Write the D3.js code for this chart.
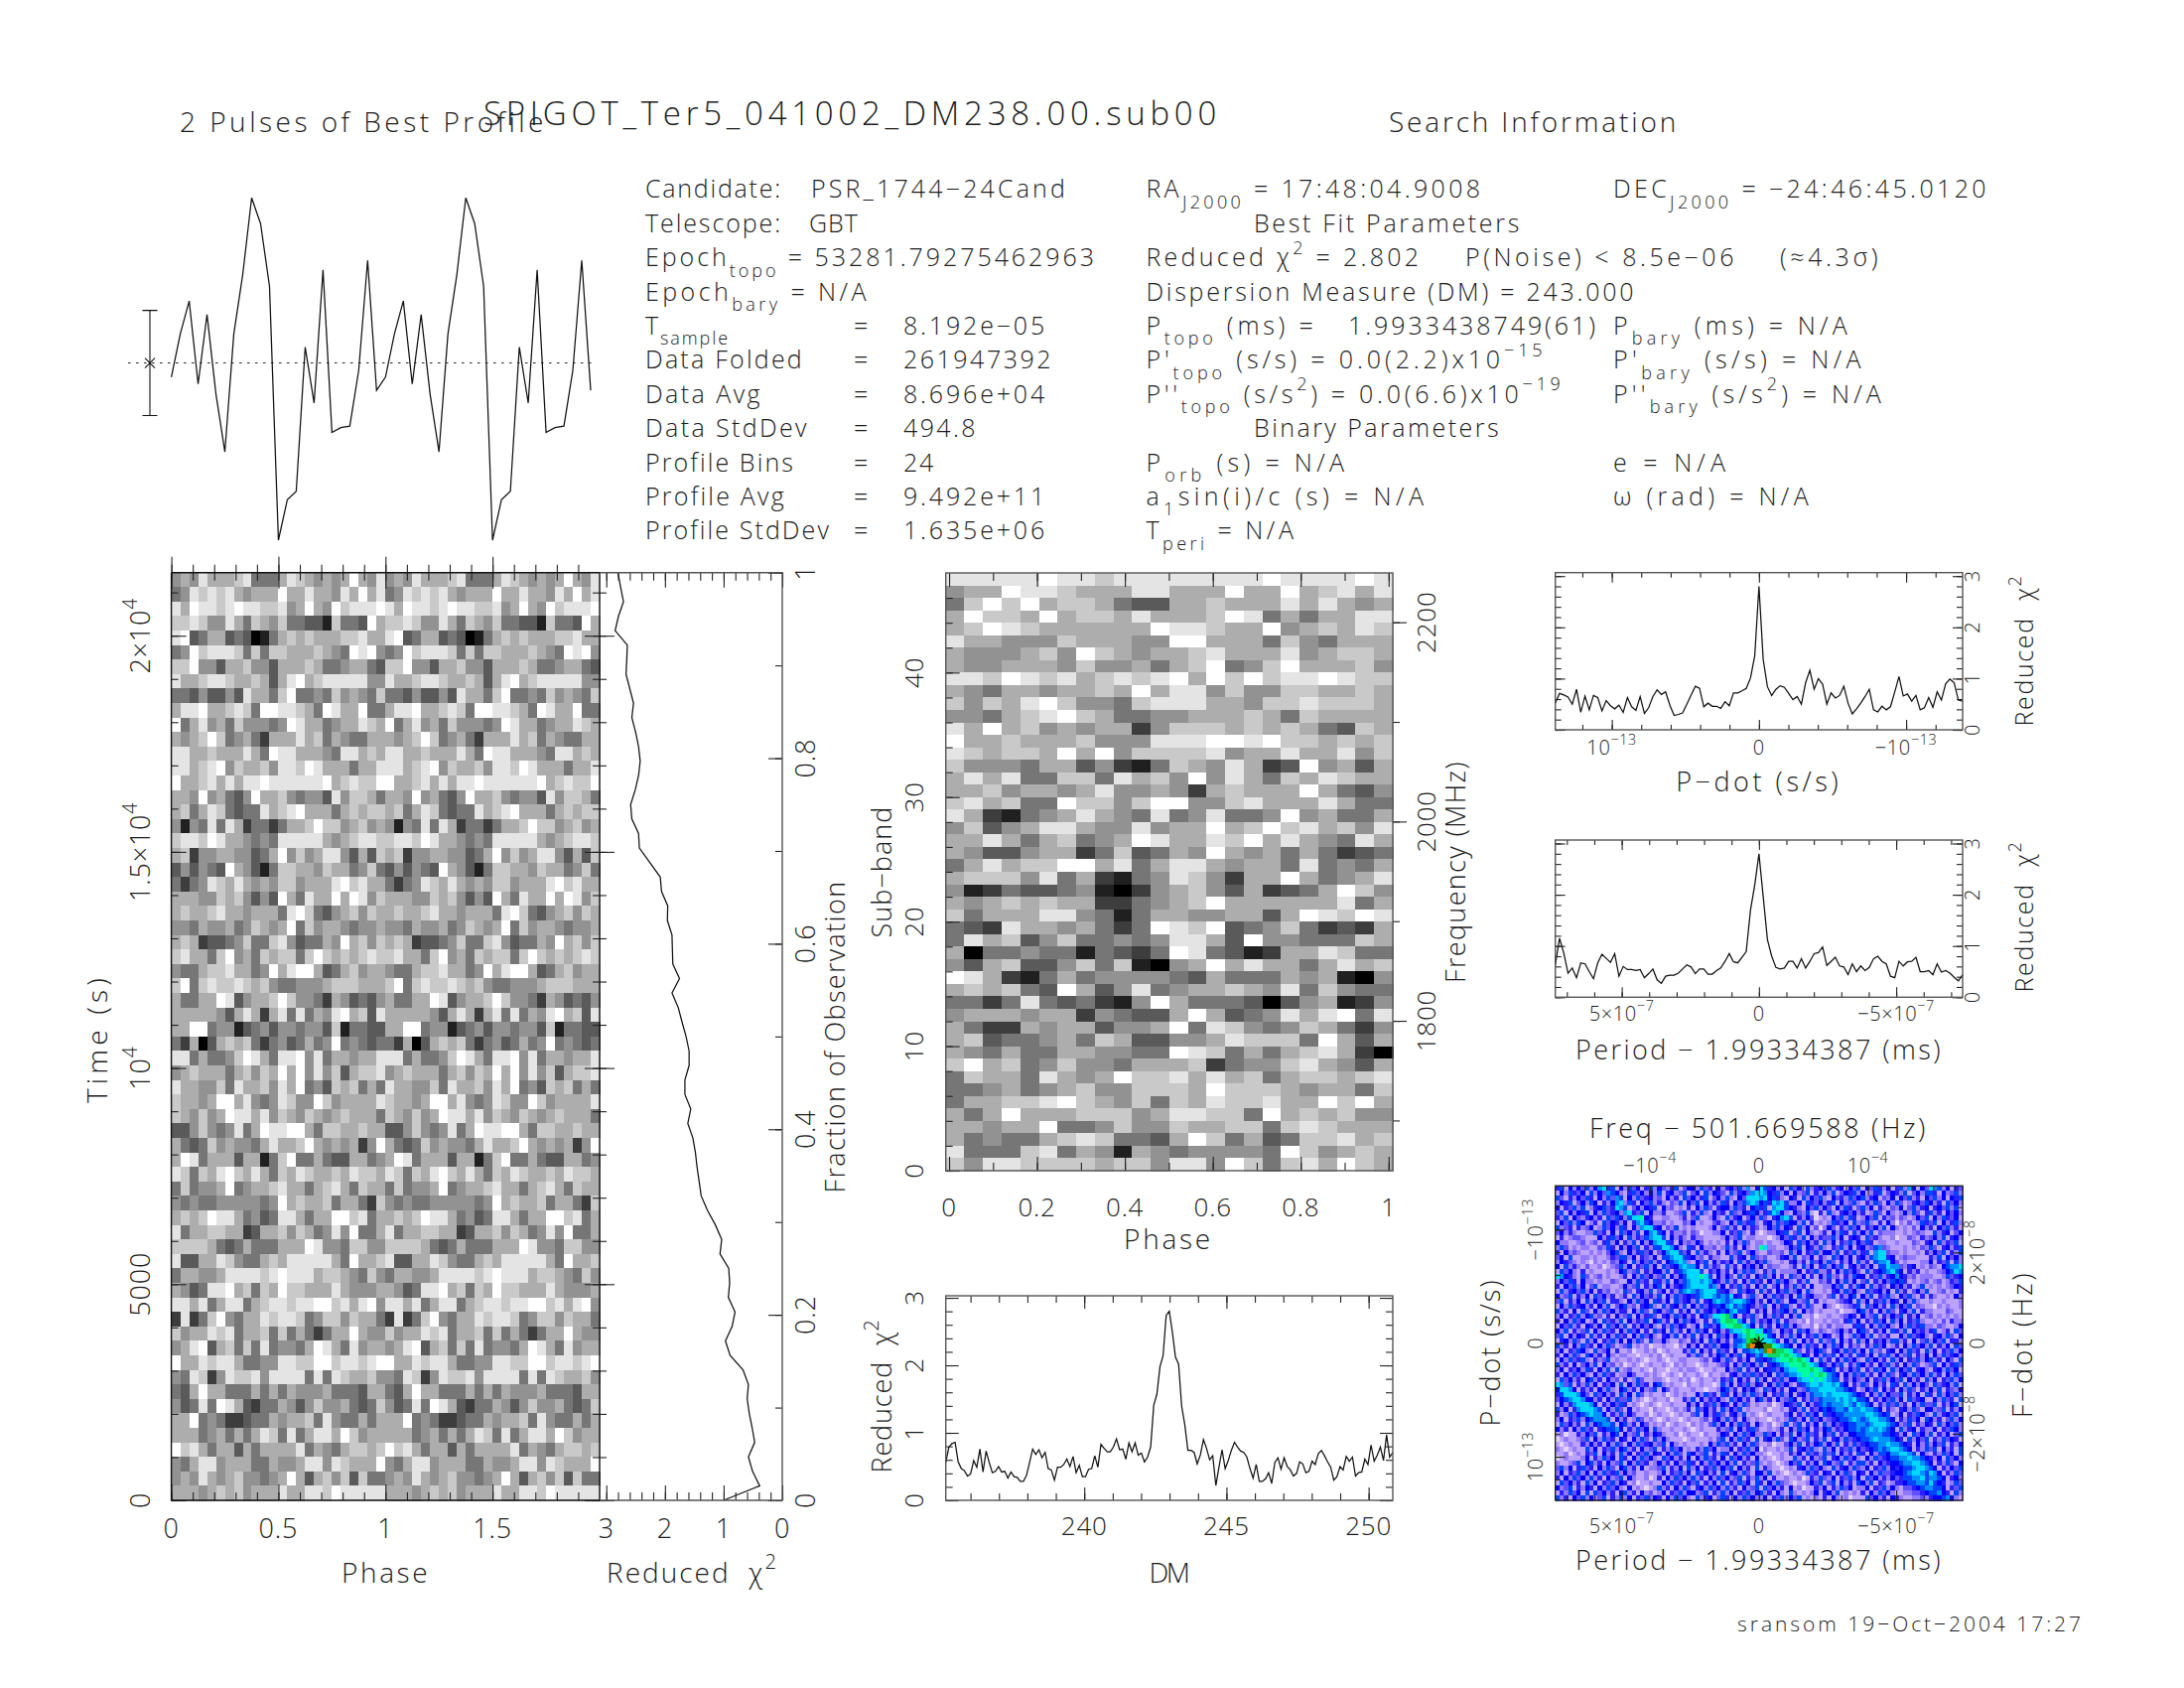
<!DOCTYPE html>
<html><head><meta charset="utf-8">
<script src="https://cdnjs.cloudflare.com/ajax/libs/d3/7.8.5/d3.min.js"></script>
<style>html,body{margin:0;background:#fff}svg{display:block}</style></head>
<body><svg id="c" width="2200" height="1700"></svg>
<script>
// ---------- data ----------
const profileSigma=[-.27,.55,1.18,-.40,.92,-.59,-1.69,.55,1.68,3.14,2.65,1.46,-3.37,-2.60,-2.44,.30,-.76,1.77,-1.32,-1.23,-1.20,-.14,1.95,-.52];
// time-phase greys: 0 black .. 9 white, top row first, one pulse (repeated twice in the plot)
const timePhaseRows=[
"565866678444687656569658","458787865666966866586968","869887898877856965978889","778755864765744331744396",
"893466343014676766677866","459788874747766676549895","779553667553666764456643","866788766763689678888855",
"443533538664794454756547","688966787499887649866944","946856475554598664566876","656797456426668674654466",
"886676668649886665488676","886789576675887986664668","966786868898888889678779","665956435966754553857764",
"674687434486789666467677","515484862442466797756756","788798665454888886567887","672556655346957568853637",
"353543965314776657664574","424587686565775666897866","666557675353964866969857","676678665666489743567576",
"554655645765694756654556","676233457447853446596757","786647956476774797676787","544677866459689963467566",
"794787787675445556777666","644669835667975542653435","666665368626848465896738","669945513453554553714433",
"426036767424534645945434","884644579864889584665668","567666467576969585736778","866557486675869453767464",
"766569968545875597566668","765756988685765765676664","335754584698899647766766","643475655468667965656259",
"698466636614794464336645","874768976864768766768776","474556945667866467864766","545445555545967667466427",
"676798864534886466997846","846677662366757645859446","777764346444666985547755","833668754467688888649667",
"466556888878988867765475","653488967476977666865556","886846884678878899786895","282479546687887457757664",
"756687846674746424669655","568936747484554698648566","966878864455887799788789","548725877858888484876675",
"436966444646465556444366","534849863244653575564347","669454223446566748544646","666456464687484688697566",
"978646636466668465467767","546885666446556885876669","565865675545696367573744","666567675666866887988888"];
// sub-band greys, top row first
const subbandRows=[
"888889887888888889888898","566988766688666966967868","479796776433667666868656","697769677686667984646688",
"679876666669887669567687","866555766655996664754666","655567597656678666856776","655666575564679457966675",
"887987867878969797889877","654665667696885755776676","757689755478886657787776","554678976445566676476666",
"869675656625777676764376","966766675558889989776767","876776969577778566866857","755546635214765862395636",
"686844774867595864768766","667566568556526766696435","786744977579955786668644","862145686548458445956446",
"573568865585669679786758","668646745698668796865486","653356624734659656464234","468677996846886566484546",
"677758462145875266964568","512433451025675362346975","656767662245679666666846","746668854146655663698798",
"432866564249879345742326","486735744545886395544476","604454414324984312668744","536733574710569686646867",
"986214645555436444656105","676743963584566765847544","442484342159644430356125","566656625433696345868948",
"642265663556948754576425","673445647633556877749636","654644665544987464678620","796745755466672455786536",
"476648656977868674677678","445645675577769777656647","466778976574768778669796","646966677756887749676755",
"665669445755766774787666","645446787443697463477867","844478465165455554975676","758877776775885974786976"];
// P-Pdot map colour levels, estimated on a 96x64 grid: 0 pale lilac .. 5 blue .. 8 cyan, 9/a green, b olive, c orange, d black
const ppdotRows=[
"46152536 25784615 26351462 53246135 52634152 45362715 86452516 35162453 62451536 15364251 46275153 87625143",
"15264351 62537652 14635252 61452361 35162543 16245378 87546251 52361425 26135462 51246135 42613526 64152362",
"63142536 41526376 15263452 31524163 52461352 62153888 78564215 41625362 15342635 62451325 15362415 36251546",
"25461352 65142578 26415362 42132615 36152426 41536787 56487862 25164352 46152362 14263152 63124536 52416352",
"51436261 24563487 61352546 15231214 15263145 52634156 46178865 42153625 31526413 62514213 25136245 14536261",
"36152546 15263452 78436152 24112361 42621534 16325465 24687521 53261041 62145352 41263152 12526314 62415352",
"42615324 52416365 26889541 12211241 36112521 62451352 63145786 14253012 15362641 25361423 13212536 15264351",
"15362651 24163542 51478652 23121132 51211342 15263462 14526365 52614121 26435162 36214152 02131264 36152462",
"62341423 51263526 41527884 51326121 21112513 62415243 12536254 16251302 53142635 14352615 21213152 41536241",
"35242112 26341516 35261578 65142231 32011225 14362141 01225461 36152124 15264162 52613222 11212321 16245135",
"14123321 11524635 16243678 86152421 42211112 52361221 11012536 42615243 36251454 16342112 01132142 35261452",
"52211231 23146251 42615257 88641523 25312121 41526312 21211254 16352416 25143625 36412211 21113214 51624361",
"26312122 11326415 25361426 68875216 41522312 62415212 98221125 36154262 14362514 52367321 11212132 63145246",
"41523211 21213562 15246351 35788635 16242141 52361352 11322316 25143625 52614362 46178832 21211214 25361426",
"35161122 12112436 62514325 16678864 52314221 16245163 23112452 61325142 16352514 52678845 12322111 42615352",
"25432121 02121325 41625362 41567872 15361524 35162425 36211214 52416352 63142516 24167785 31211122 51436162",
"51624213 11201236 25143625 16345787 75162431 62415352 51322112 41625146 25361452 42516687 73245121 32156778",
"16352141 21112125 62361425 52614678 88614352 41526362 14261222 25143622 41526353 16245678 65142412 11235687",
"87542163 12312112 41526352 36152568 88986152 53162415 36251416 32514152 62314265 51436245 75423122 21126345",
"25364152 21211321 15263416 42615367 88787542 62415263 41526352 14261132 41526251 36142536 56412123 12312436",
"41536251 36122112 52361425 61524567 88886725 14362415 26135142 62415112 25361426 51624315 35241261 21212354",
"16245362 51423121 63145261 35142678 76788864 52163541 62415362 35162112 14526352 16345251 62413526 11231214",
"52361425 16352412 41625342 61526345 46788767 68541362 15263425 16245221 36142561 52614362 15362141 42112152",
"36142516 25361442 15263516 42516345 26145787 67887652 41526315 52361412 11234516 25143625 41526211 21121112",
"15263452 41526135 62314562 16245261 52635465 78676542 36152462 14263115 21012346 16352416 25361321 10212112",
"62415163 15263524 41526316 52361425 16245356 57866514 25143652 61523121 11201125 62415263 14526142 21113211",
"25143625 62314152 36152463 14526352 41563889 a7514362 15263415 26112011 21123541 52361425 36142512 31212121",
"41526351 25163426 15243615 62415263 52141679 aa975162 43526142 21202112 12214625 14263516 25143621 12131422",
"15362415 42516352 61425352 14263541 25164358 99aa8751 62415362 52112021 31221146 41526352 15263462 21321125",
"52614236 15263415 26351416 35162415 26351452 47889a98 85621534 16352132 12352415 63142516 42615342 46124163",
"36152541 62415263 41526352 14526142 61425163 52578a9a 98651426 25143625 41251263 52613241 15263452 14526315",
"14526316 25143625 15263162 25211321 42516352 41667abb 98874152 61524162 36152416 25143526 62415136 25361442",
"62415263 41526312 36121201 12110215 25143625 52678bcd dbb98765 15263415 26351423 14263512 41526352 61425163",
"25143652 16235141 12011212 01211142 61524163 41516678 7bcbaa98 63142563 14526362 51623145 15263416 25143625",
"41526316 52415212 21101121 20121114 26314256 25361547 68aaa9a9 87541526 36152416 42516362 52361425 15263452",
"15263462 14236121 12121011 21011221 11231452 63142516 4567899a 9a985162 41526352 16352416 25143625 62415316",
"62415135 26152312 01210121 12102121 10121123 41526352 61456789 99a98754 25361426 52415362 41526312 36152463",
"25143526 41526161 23112102 11011212 21011211 52361425 15463578 8999a986 56142536 14263516 25361452 14526351",
"41526352 15263412 25311212 10121021 12102112 14526363 42516367 789989a9 76515263 62415263 14526352 62415263",
"16352415 62415231 41263112 21011212 01211214 36152416 25143625 57889898 76614253 25143625 36152416 25143625",
"87361426 25143516 15263415 62121102 11211016 25143625 41526352 14678878 87865142 63152416 41625253 16345261",
"58875142 41526215 62415236 15312111 21101125 62415352 16352415 52367788 88776541 25361524 15263142 52614325",
"46888753 16352416 25163121 12012121 15263416 41526263 25143625 14526778 78888765 41526253 36142516 41625362",
"35678875 52415263 36121012 11201142 61524352 16352415 62415236 51426367 77878786 65142536 25163451 15263416",
"15247888 75142536 41210121 01121115 25143625 41526312 11201254 36152467 67778768 76514263 62415263 36142561",
"62514788 87615263 15121102 11012124 16352416 25361211 12011214 52614356 56776877 87765142 14526315 52361425",
"41263567 87751426 25311201 21101211 36152463 14526121 01211135 14263516 45667777 78876561 25143652 16245361",
"25143625 67776152 41263121 01211012 11231452 62415212 11012126 42516352 34566787 67887765 14263516 52413625",
"16352416 25677615 62415312 12012110 21213625 15263415 21201261 36142516 25345667 76788876 52361425 41625362",
"52415263 41456675 14263516 21121121 01211142 36152463 11212415 26351425 62435667 67878765 16245142 25143652",
"12011425 36142561 52361425 42112012 11021125 41526352 26351426 15263415 36142556 67777665 42516352 61425136",
"01211236 15263415 41526316 25211101 21112136 15263416 14526316 52361426 14526345 66787776 54162536 14263541",
"10121142 52415263 15263452 36152121 11215263 62415263 11201135 26142562 52614263 45667787 76541526 25361425",
"21012116 25143625 62415236 14263512 14263512 25143625 02112126 14536216 25143625 34567678 87651426 36152416",
"11201214 36152416 25143625 41526316 52361426 41526352 21011214 25163426 36152416 41526657 78876152 14263516",
"01211125 14263516 41526352 16352415 15263415 16352415 12101211 62415236 14526352 15263456 67787765 42516352",
"21123615 62415236 15263412 52415236 41526352 52614236 21210125 36142516 52361426 62415345 56778876 51426315",
"36251463 41526315 62415122 36142516 25143625 36152416 14211012 14526352 16245263 25143625 45667887 65142536",
"25143625 15263462 52311211 25143625 16352416 14526315 52612101 21263415 41526315 41526334 55678876 87514263",
"41526352 62415236 15211201 41526352 62415263 52361426 25141121 12014263 25143625 16352425 34667786 77651452",
"16352416 25143625 41201121 15263415 36142516 14263516 41526321 01125361 36152416 52614312 44566776 86541263",
"52361425 41526352 15121012 62415263 14526352 62415236 16352415 12011425 14263512 25143625 21334567 76651436",
"14263516 16352415 62415231 25143625 52361426 25143625 62415216 21212514 52612121 41526352 11223345 66754162",
"62415362 52361426 25143625 41526352 16245136 41526352 25143625 36121214 15212011 16352415 42112232 45567521"];
const ppdotLevels=["#e4d2ff","#bca2ff","#9078ff","#6050ff","#2a20ff","#0000ff","#0044ff","#0090ff","#00d8ff","#00ff9c","#10d860","#3f8f00","#ff8000","#081200"];
// reduced chi^2 against fraction of observation, 65 points from fraction 0 to 1
const chiVsFraction=[1.00,.385,.506,.577,.47,.513,.563,.598,.577,.67,.89,.969,.855,.805,.919,.897,.912,1.061,1.033,1.14,1.275,1.382,1.417,1.453,1.481,1.524,1.61,1.56,1.66,1.66,1.588,1.588,1.64,1.709,1.774,1.88,1.752,1.866,1.873,1.88,1.959,1.952,2.058,2.08,2.258,2.436,2.45,2.564,2.585,2.507,2.45,2.422,2.45,2.5,2.564,2.536,2.6,2.664,2.65,2.642,2.849,2.792,2.707,2.756,2.802];
const chiVsDM=[.56,.79,.84,.86,.57,.47,.44,.36,.39,.59,.49,.76,.42,.73,.56,.41,.43,.50,.42,.43,.33,.42,.35,.34,.28,.28,.37,.56,.76,.68,.75,.63,.71,.47,.45,.30,.49,.49,.53,.61,.50,.65,.41,.52,.35,.35,.46,.47,.66,.49,.83,.77,.72,.72,.79,.91,.75,.76,.61,.85,.72,.85,.67,.70,.57,.64,.79,1.41,1.57,1.98,2.14,2.74,2.80,2.49,2.12,2.02,1.39,1.12,.74,.74,.71,.54,.67,.90,.77,.60,.66,.22,.49,.75,.47,.59,.74,.86,.79,.73,.71,.64,.47,.33,.53,.28,.28,.32,.41,.25,.56,.63,.46,.63,.50,.45,.36,.40,.57,.54,.41,.43,.58,.53,.69,.74,.66,.57,.49,.30,.35,.50,.45,.65,.58,.64,.36,.41,.42,.61,.53,.82,.58,.67,.79,.59,.97,.64,.71];
const chiVsPdot=[.52,.71,.68,.64,.50,.79,.34,.66,.39,.67,.63,.37,.57,.47,.41,.48,.34,.63,.45,.38,.65,.32,.43,.65,.78,.69,.74,.48,.28,.30,.33,.50,.68,.85,.81,.45,.52,.46,.46,.42,.55,.47,.72,.72,.76,.81,1.01,1.44,2.80,1.37,.84,.67,.79,.86,.83,.71,.59,.65,.50,.92,1.16,.79,1.00,.89,.50,.72,.62,.67,.85,.52,.31,.41,.52,.65,.79,.39,.35,.46,.39,.45,.74,1.04,.66,.70,.56,.67,.39,.43,.63,.44,.74,.58,.90,.99,.92,.58,.56];
const chiVsPeriod=[.63,1.15,.86,.47,.57,.38,.67,.65,.50,.36,.67,.84,.76,.68,.85,.41,.60,.54,.54,.52,.54,.38,.46,.55,.34,.27,.41,.43,.43,.47,.55,.63,.59,.46,.55,.55,.45,.45,.52,.57,.70,.85,.69,.67,.78,.89,1.70,2.19,2.80,1.96,1.12,.80,.58,.55,.57,.70,.70,.57,.75,.57,.70,.85,.87,.98,.62,.70,.78,.61,.59,.44,.65,.50,.61,.52,.58,.75,.80,.70,.65,.41,.38,.70,.61,.69,.70,.78,.50,.50,.52,.44,.65,.49,.52,.47,.39,.32,.44];
const TOBS=21458.7, NPART=64, PROFBINS=24;

// ---------- helpers ----------
const svg=d3.select("#c");
const INK="#1c1c1c", FONT="'Open Sans', Roboto, sans-serif", WEIGHT=300;
function rich(x,y,parts,o={}){
  const size=o.size||25;
  const t=svg.append("text").attr("font-family",FONT).attr("font-weight",WEIGHT).attr("fill",INK)
    .attr("font-size",size).attr("text-anchor",o.anchor||"start").style("white-space","pre")
    .attr("transform",`translate(${x},${y})`+(o.rot?` rotate(${o.rot})`:""));
  if(typeof parts==="string")parts=[[parts]];
  let base=0;
  parts.forEach(p=>{
    const k=p[1]; const off=k==="sub"?size*.42:k==="sup"?-size*.5:0;
    t.append("tspan").attr("dy",off-base).attr("font-size",k?size*.72:size).text(p[0]);
    base=off;
  });
  const n=parts.reduce((a,p)=>a+p[0].length,0);
  if(o.w){ const len=t.node().getComputedTextLength(); t.style("letter-spacing",((o.w-len)/Math.max(1,n))+"px"); }
  else t.style("letter-spacing",(o.ls===undefined?size*.03:o.ls)+"px");
  return t;
}
function seq(a,b,s){const r=[];const n=Math.round((b-a)/s);for(let i=0;i<=n;i++)r.push(+(a+i*s).toPrecision(10));return r;}
function axis(kind,scale,vals,size,x,y,w=1.1,col="#222"){
  const g=svg.append("g").attr("transform",`translate(${x},${y})`)
    .call(kind(scale).tickValues(vals).tickSize(size).tickFormat(""));
  g.select(".domain").remove();
  g.selectAll("line").attr("stroke",col).attr("stroke-width",w);
}
function frame(x0,y0,x1,y1,col="#555",w=1.4){
  svg.append("rect").attr("x",x0).attr("y",y0).attr("width",x1-x0).attr("height",y1-y0)
    .attr("fill","none").attr("stroke",col).attr("stroke-width",w);
}
function curve(xf,yf,data){
  const ln=d3.line().x((d,i)=>xf(i)).y(d=>yf(d));
  svg.append("path").attr("d",ln(data)).attr("fill","none").attr("stroke","#111").attr("stroke-width",1.25);
}
function greyOf(d){ const v=Math.round(Math.pow(+d/9,.95)*255); return `rgb(${v},${v},${v})`; }

// ---------- titles ----------
rich(487,125.7,"SPIGOT_Ter5_041002_DM238.00.sub00",{size:33,w:743});
rich(181,133,"2 Pulses of Best Profile",{size:28,w:370});
rich(1399,133,"Search Information",{size:28,w:292});

// ---------- info block ----------
const LH=34.4,L0=199.3; const ly=i=>L0+i*LH;
const C1=650,C2=1154.4,C3=1625,EQ=860,VAL=910;
rich(C1,ly(0),"Candidate:",{w:138}); rich(817,ly(0),"PSR_1744−24Cand",{w:259});
rich(C1,ly(1),"Telescope:",{w:138}); rich(815,ly(1),"GBT",{w:50});
rich(C1,ly(2),[["Epoch"],["topo","sub"],[" = 53281.79275462963"]],{w:455});
rich(C1,ly(3),[["Epoch"],["bary","sub"],[" = N/A"]],{w:226});
rich(C1,ly(4),[["T"],["sample","sub"]],{w:85});
[["Data Folded","261947392",160,151],["Data Avg","8.696e+04",118,145],["Data StdDev","494.8",165,75],["Profile Bins","24",151,32],["Profile Avg","9.492e+11",142,145],["Profile StdDev","1.635e+06",187,145]]
 .forEach((r,i)=>{rich(C1,ly(5+i),r[0],{w:r[2]});rich(EQ,ly(5+i),"=",{w:18});rich(VAL,ly(5+i),r[1],{w:r[3]});});
rich(EQ,ly(4),"=",{w:18}); rich(VAL,ly(4),"8.192e−05",{w:145});

rich(C2,ly(0),[["RA"],["J2000","sub"],[" = 17:48:04.9008"]],{w:340});
rich(C3,ly(0),[["DEC"],["J2000","sub"],[" = −24:46:45.0120"]],{w:379});
rich(1263,ly(1),"Best Fit Parameters",{w:270});
rich(C2,ly(2),[["Reduced χ"],["2","sup"],[" = 2.802"]],{w:278});
rich(1476,ly(2),"P(Noise) < 8.5e−06",{w:274});
rich(1793,ly(2),"(≈4.3σ)",{w:102});
rich(C2,ly(3),"Dispersion Measure (DM) = 243.000",{w:494});
rich(C2,ly(4),[["P"],["topo","sub"],[" (ms) ="]],{w:172});
rich(1358,ly(4),"1.9933438749(61)",{w:252});
rich(C3,ly(4),[["P"],["bary","sub"],[" (ms) = N/A"]],{w:240});
rich(C2,ly(5),[["P'"],["topo","sub"],[" (s/s) = 0.0(2.2)x10"],["−15","sup"]],{w:403});
rich(C3,ly(5),[["P'"],["bary","sub"],[" (s/s) = N/A"]],{w:254});
rich(C2,ly(6),[["P''"],["topo","sub"],[" (s/s"],["2","sup"],[") = 0.0(6.6)x10"],["−19","sup"]],{w:421});
rich(C3,ly(6),[["P''"],["bary","sub"],[" (s/s"],["2","sup"],[") = N/A"]],{w:274});
rich(1263,ly(7),"Binary Parameters",{w:249});
rich(C2,ly(8),[["P"],["orb","sub"],[" (s) = N/A"]],{w:204});
rich(C3,ly(8),"e = N/A",{w:118});
rich(C2,ly(9),[["a"],["1","sub"],["sin(i)/c (s) = N/A"]],{w:284});
rich(C3,ly(9),"ω (rad) = N/A",{w:201});
rich(C2,ly(10),[["T"],["peri","sub"],[" = N/A"]],{w:152});
rich(1750,1643,"sransom 19−Oct−2004 17:27",{size:21,w:349});

// ---------- profile + time-phase ----------
const TL=172.6,TR=604,TT=576.7,TB=1511;
const phase=d3.scaleLinear().domain([0,2]).range([TL,TR]);
const time=d3.scaleLinear().domain([0,TOBS]).range([TB,TT]);
const prof=d3.scaleLinear().domain([-3.37,3.14]).range([544,199.3]);
const twoPulses=profileSigma.concat(profileSigma);
svg.append("line").attr("x1",129).attr("x2",598).attr("y1",prof(0)).attr("y2",prof(0))
   .attr("stroke","#222").attr("stroke-width",1.1).attr("stroke-dasharray","2.5 5.5");
curve(i=>phase(i/PROFBINS),prof,twoPulses);
// profile error bar: +/- one sigma
const EX=151;
svg.append("path").attr("fill","none").attr("stroke","#111").attr("stroke-width",1.1)
  .attr("d",`M${EX},${prof(1)}V${prof(-1)}M${EX-7.5},${prof(1)}H${EX+7.5}M${EX-7.5},${prof(-1)}H${EX+7.5}`
    +`M${EX-5},${prof(0)-5}L${EX+5},${prof(0)+5}M${EX-5},${prof(0)+5}L${EX+5},${prof(0)-5}`);
// image cells
timePhaseRows.forEach((row,r)=>{
  d3.range(2).forEach(p=>{
    svg.append("g").attr("shape-rendering","crispEdges").selectAll("rect").data(row.split("")).join("rect")
      .attr("x",(d,c)=>phase(p+c/PROFBINS))
      .attr("width",phase(1/PROFBINS)-phase(0)+.6)
      .attr("y",time((NPART-r)/NPART*TOBS))
      .attr("height",time(0)-time(TOBS/NPART)+.6)
      .attr("fill",greyOf);
  });
});
const phMaj=[0,.5,1,1.5,2],phMin=seq(0,2,.1);
[[d3.axisTop,TT],[d3.axisBottom,TT],[d3.axisTop,TB]].forEach(a=>{axis(a[0],phase,phMin.filter(v=>v<2),8,0,a[1]);axis(a[0],phase,phMaj.filter(v=>v<2),16,0,a[1]);});
const tMin=seq(0,21000,1000),tMaj=seq(0,20000,5000);
[[d3.axisRight,TL],[d3.axisLeft,TR],[d3.axisRight,TR]].forEach(a=>{axis(a[0],time,tMin,7,a[1],0);axis(a[0],time,tMaj,15,a[1],0);});
svg.append("path").attr("fill","none").attr("stroke","#111").attr("stroke-width",1.4).attr("d",`M${TL},${TT}H${TR}V${TB}H${TL}V${TT}`);
[[0,"0"],[.5,"0.5"],[1,"1"],[1.5,"1.5"]].forEach(a=>rich(phase(a[0]),1549,a[1],{size:27,anchor:"middle"}));
rich(388.6,1594,"Phase",{size:28,w:89,anchor:"middle"});
rich(151,time(0),"0",{size:27,anchor:"middle",rot:-90});
rich(151,time(5000),"5000",{size:27,anchor:"middle",rot:-90});
rich(151,time(10000),[["10"],["4","sup"]],{size:27,anchor:"middle",rot:-90});
rich(151,time(15000),[["1.5×10"],["4","sup"]],{size:27,anchor:"middle",rot:-90});
rich(151,time(20000),[["2×10"],["4","sup"]],{size:27,anchor:"middle",rot:-90});
rich(108,1046,"Time (s)",{size:28,w:130,anchor:"middle",rot:-90});

// ---------- chi^2 vs fraction ----------
const CR=788;
const chiX=d3.scaleLinear().domain([3.114,0]).range([TR,CR]);
const frac=d3.scaleLinear().domain([0,1]).range([TB,TT]);
svg.append("path").attr("fill","none").attr("stroke","#111").attr("stroke-width",1.25)
  .attr("d",d3.line().x(d=>chiX(d)).y((d,i)=>frac(i/NPART))(chiVsFraction));
[[d3.axisBottom,TT],[d3.axisTop,TB]].forEach(a=>{axis(a[0],chiX,seq(0,3,.2),8,0,a[1]);axis(a[0],chiX,[0,1,2,3],15,0,a[1]);});
axis(d3.axisLeft,frac,seq(0,1,.1),7,CR,0);axis(d3.axisLeft,frac,seq(0,1,.2),14,CR,0);
svg.append("path").attr("fill","none").attr("stroke","#555").attr("stroke-width",1.4).attr("d",`M${TR},${TT}H${CR}V${TB}H${TR}`);
[0,1,2,3].forEach(v=>rich(chiX(v),1549,""+v,{size:27,anchor:"middle"}));
rich(611,1594,[["Reduced  χ"],["2","sup"]],{size:28,w:173});
[0,.2,.4,.6,.8,1].forEach(v=>rich(821,frac(v),""+v,{size:27,anchor:"middle",rot:-90}));
rich(851,1044,"Fraction of Observation",{size:27,w:315,anchor:"middle",rot:-90});

// ---------- sub-bands ----------
const SL=952.7,SR=1403,ST=577,SB=1179;
const sPh=d3.scaleLinear().domain([-.0075,1.0095]).range([SL,SR]);
const sBand=d3.scaleLinear().domain([0,48]).range([SB,ST]);
const sFreq=d3.scaleLinear().domain([1649.6,2249.5]).range([SB,ST]);
const cellW=(SR-SL)/subbandRows[0].length;
subbandRows.forEach((row,r)=>{
  svg.append("g").attr("shape-rendering","crispEdges").selectAll("rect").data(row.split("")).join("rect")
   .attr("x",(d,c)=>SL+c*cellW).attr("width",cellW+.6)
   .attr("y",sBand(48-r)).attr("height",sBand(0)-sBand(1)+.6).attr("fill",greyOf);
});
[[d3.axisBottom,ST],[d3.axisTop,SB]].forEach(a=>{axis(a[0],sPh,seq(0,1,.1),8,0,a[1]);axis(a[0],sPh,seq(0,1,.2),14,0,a[1]);});
axis(d3.axisRight,sBand,seq(0,46,2),7,SL,0);axis(d3.axisRight,sBand,seq(0,40,10),14,SL,0);
axis(d3.axisRight,sFreq,seq(1700,2200,100),7,SR,0);axis(d3.axisRight,sFreq,[1800,2000,2200],14,SR,0);
frame(SL,ST,SR,SB);
[0,.2,.4,.6,.8,1].forEach(v=>rich(sPh(v),1225,""+v,{size:26,anchor:"middle"}));
rich(1177,1258,"Phase",{size:28,w:90,anchor:"middle"});
[0,10,20,30,40].forEach(v=>rich(930,sBand(v),""+v,{size:26,anchor:"middle",rot:-90}));
rich(898,878,"Sub−band",{size:27,w:133,anchor:"middle",rot:-90});
[1800,2000,2200].forEach(v=>rich(1446,sFreq(v),""+v,{size:26,anchor:"middle",rot:-90}));
rich(1476,878,"Frequency (MHz)",{size:27,w:224,anchor:"middle",rot:-90});

// ---------- chi^2 vs DM ----------
const DT=1305;
const dmX=d3.scaleLinear().domain([235.13,250.85]).range([SL,SR]);
const dmY=d3.scaleLinear().domain([0,3.03]).range([TB,DT]);
const dmStep=(250.85-235.13)/(chiVsDM.length-1);
curve(i=>dmX(235.13+i*dmStep),dmY,chiVsDM);
[[d3.axisBottom,DT],[d3.axisTop,TB]].forEach(a=>{axis(a[0],dmX,seq(236,250,1),7,0,a[1]);axis(a[0],dmX,[240,245,250],13,0,a[1]);});
[[d3.axisRight,SL],[d3.axisLeft,SR]].forEach(a=>{axis(a[0],dmY,seq(0,3,.2),7,a[1],0);axis(a[0],dmY,[0,1,2,3],13,a[1],0);});
frame(SL,DT,SR,TB);
[240,245,250].forEach(v=>rich(dmX(v),1546,""+v,{size:26,anchor:"middle"}));
rich(1177,1594,"DM",{size:28,w:39,anchor:"middle"});
[0,1,2,3].forEach(v=>rich(930,dmY(v),""+v,{size:26,anchor:"middle",rot:-90}));
rich(898,1406,[["Reduced  χ"],["2","sup"]],{size:27,w:155,anchor:"middle",rot:-90});

// ---------- small chi^2 panels ----------
const RL=1566.7,RR=1977;
const PDMAX=1.384e-13,PMAX=7.42e-7;
function smallPanel(top,bot,xs,major,minor,vals){
  const y=d3.scaleLinear().domain([0,(bot-top)/51.6]).range([bot,top]);
  const n=vals.length;
  curve(i=>xs(xs.domain()[0]+(xs.domain()[1]-xs.domain()[0])*i/(n-1)),y,vals);
  [[d3.axisBottom,top],[d3.axisTop,bot]].forEach(a=>{axis(a[0],xs,minor,5,0,a[1]);axis(a[0],xs,major,10,0,a[1]);});
  [[d3.axisRight,RL],[d3.axisLeft,RR]].forEach(a=>{axis(a[0],y,seq(0,3,.2),6,a[1],0);axis(a[0],y,[0,1,2,3],10,a[1],0);});
  frame(RL,top,RR,bot);
  [0,1,2,3].forEach(v=>rich(1994,y(v),""+v,{size:20,anchor:"middle",rot:-90}));
}
const pdX=d3.scaleLinear().domain([PDMAX,-PDMAX]).range([RL,RR]);
const pX=d3.scaleLinear().domain([PMAX,-PMAX]).range([RL,RR]);
const pdMinor=seq(-1.2e-13,1.2e-13,2e-14),pMinor=seq(-7e-7,7e-7,1e-7);
smallPanel(576.7,735,pdX,[-1e-13,0,1e-13],pdMinor,chiVsPdot);
smallPanel(846,1004.3,pX,[-5e-7,0,5e-7],pMinor,chiVsPeriod);
rich(pdX(1e-13),760,[["10"],["−13","sup"]],{size:20,anchor:"middle"});
rich(pdX(0),760,"0",{size:20,anchor:"middle"});
rich(pdX(-1e-13),760,[["−10"],["−13","sup"]],{size:20,anchor:"middle"});
rich(1771.7,796.7,"P−dot (s/s)",{size:27,w:167,anchor:"middle"});
rich(2048,655,[["Reduced  χ"],["2","sup"]],{size:25,w:153,anchor:"middle",rot:-90});
rich(2048,923,[["Reduced  χ"],["2","sup"]],{size:25,w:153,anchor:"middle",rot:-90});
function periodTicks(yb){
  rich(pX(5e-7),yb,[["5×10"],["−7","sup"]],{size:20,anchor:"middle"});
  rich(pX(0),yb,"0",{size:20,anchor:"middle"});
  rich(pX(-5e-7),yb,[["−5×10"],["−7","sup"]],{size:20,anchor:"middle"});
}
periodTicks(1028);
rich(1772,1067,"Period − 1.99334387 (ms)",{size:27,w:370,anchor:"middle"});

// ---------- P-Pdot map ----------
const MT=1194.3;
const mpd=d3.scaleLinear().domain([-PDMAX,PDMAX]).range([MT,TB]);
const mFreq=d3.scaleLinear().domain([-1.87e-4,1.87e-4]).range([RL,RR]);
const mFd=d3.scaleLinear().domain([3.47e-8,-3.47e-8]).range([MT,TB]);
const rows=ppdotRows.map(s=>s.replace(/ /g,""));
const mW=(RR-RL)/96,mH=(TB-MT)/rows.length;
rows.forEach((row,r)=>{
  svg.append("g").attr("shape-rendering","crispEdges").selectAll("rect").data(row.split("").slice(0,96)).join("rect")
    .attr("x",(d,c)=>RL+c*mW).attr("width",mW+.6).attr("y",MT+r*mH).attr("height",mH+.6)
    .attr("fill",d=>ppdotLevels[parseInt(d,16)]);
});
axis(d3.axisBottom,mFreq,seq(-1.8e-4,1.8e-4,2e-5),5,0,MT);axis(d3.axisBottom,mFreq,[-1e-4,0,1e-4],10,0,MT);
axis(d3.axisTop,pX,pMinor,5,0,TB);axis(d3.axisTop,pX,[-5e-7,0,5e-7],10,0,TB);
axis(d3.axisRight,mpd,pdMinor,5,RL,0);axis(d3.axisRight,mpd,[-1e-13,0,1e-13],10,RL,0);
axis(d3.axisLeft,mFd,seq(-3e-8,3e-8,1e-8),5,RR,0);axis(d3.axisLeft,mFd,[-2e-8,0,2e-8],10,RR,0);
frame(RL,MT,RR,TB,"#222",1.4);
// best-fit marker
const mx=pX(0),my=mpd(0);
svg.append("path").attr("stroke","#000").attr("stroke-width",1.2).attr("fill","none")
  .attr("d",`M${mx-7},${my}H${mx+7}M${mx},${my-7}V${my+7}M${mx-5},${my-5}L${mx+5},${my+5}M${mx-5},${my+5}L${mx+5},${my-5}`);
periodTicks(1544);
rich(1772,1581,"Period − 1.99334387 (ms)",{size:27,w:370,anchor:"middle"});
rich(1601,1146,"Freq − 501.669588 (Hz)",{size:27,w:341});
rich(mFreq(-1e-4),1181,[["−10"],["−4","sup"]],{size:20,anchor:"middle"});
rich(mFreq(0),1181,"0",{size:20,anchor:"middle"});
rich(mFreq(1e-4),1181,[["10"],["−4","sup"]],{size:20,anchor:"middle"});
rich(1554,mpd(-1e-13),[["−10"],["−13","sup"]],{size:20,anchor:"middle",rot:-90});
rich(1554,mpd(0),"0",{size:20,anchor:"middle",rot:-90});
rich(1554,mpd(1e-13),[["10"],["−13","sup"]],{size:20,anchor:"middle",rot:-90});
rich(1511,1362,"P−dot (s/s)",{size:27,w:149,anchor:"middle",rot:-90});
rich(1999,mFd(2e-8),[["2×10"],["−8","sup"]],{size:20,anchor:"middle",rot:-90});
rich(1999,mFd(0),"0",{size:20,anchor:"middle",rot:-90});
rich(1999,mFd(-2e-8),[["−2×10"],["−8","sup"]],{size:20,anchor:"middle",rot:-90});
rich(2047,1354,"F−dot (Hz)",{size:27,w:148,anchor:"middle",rot:-90});
</script></body></html>
